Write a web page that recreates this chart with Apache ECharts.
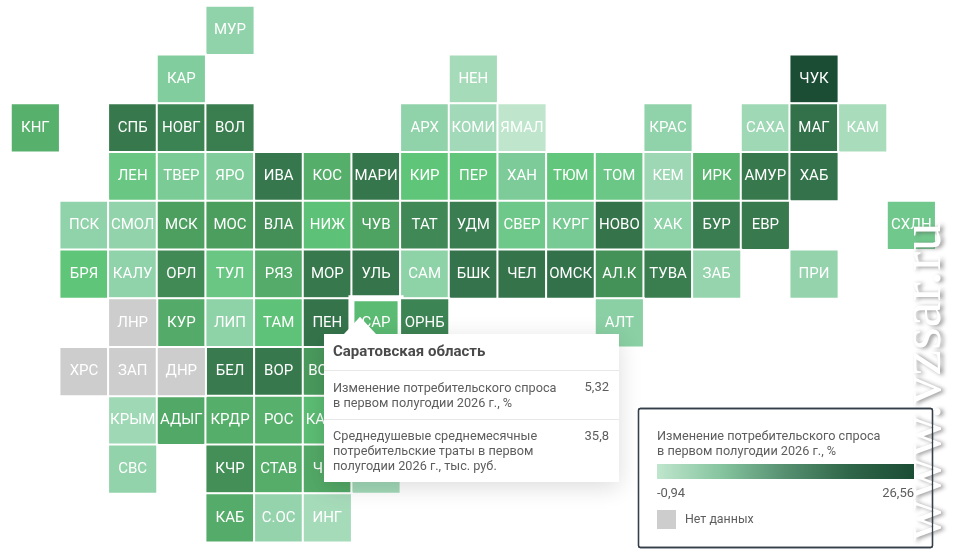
<!DOCTYPE html>
<html lang="ru">
<head>
<meta charset="utf-8">
<title>Изменение потребительского спроса</title>
<script src="https://cdn.jsdelivr.net/npm/echarts@6/dist/echarts.min.js"></script>
<style>html,body{margin:0;padding:0;background:#fff}#chart{width:960px;height:558px}</style>
</head>
<body>
<div id="chart"></div>
<script>
// ---- Data ----
const columnKeys = ['0','1','2','3','4','5','6','7','8','9','10','11','12','13','14','15','16','17','18'];
const rowKeys = ['0','1','2','3','4','5','6','7','8','9','10'];

const regionCodes = [
  'МУР',
  'КАР','НЕН','ЧУК',
  'КНГ','СПБ','НОВГ','ВОЛ','АРХ','КОМИ','ЯМАЛ','КРАС','САХА','МАГ','КАМ',
  'ЛЕН','ТВЕР','ЯРО','ИВА','КОС','МАРИ','КИР','ПЕР','ХАН','ТЮМ','ТОМ','КЕМ','ИРК','АМУР','ХАБ',
  'ПСК','СМОЛ','МСК','МОС','ВЛА','НИЖ','ЧУВ','ТАТ','УДМ','СВЕР','КУРГ','НОВО','ХАК','БУР','ЕВР','СХЛН',
  'БРЯ','КАЛУ','ОРЛ','ТУЛ','РЯЗ','МОР','УЛЬ','САМ','БШК','ЧЕЛ','ОМСК','АЛ.К','ТУВА','ЗАБ','ПРИ',
  'КУР','ЛИП','ТАМ','ПЕН','САР','ОРНБ','АЛТ',
  'БЕЛ','ВОР','ВОЛГ',
  'КРЫМ','АДЫГ','КРДР','РОС','КАЛМ','АСТ',
  'СВС','КЧР','СТАВ','ЧЕЧ','ДАГ',
  'КАБ','С.ОС','ИНГ'
];
const regionCols = [
  4,
  3,9,16,
  0,2,3,4,8,9,10,13,15,16,17,
  2,3,4,5,6,7,8,9,10,11,12,13,14,15,16,
  1,2,3,4,5,6,7,8,9,10,11,12,13,14,15,18,
  1,2,3,4,5,6,7,8,9,10,11,12,13,14,16,
  3,4,5,6,7,8,12,
  4,5,6,
  2,3,4,5,6,7,
  2,4,5,6,7,
  4,5,6
];
const regionRows = [
  0,
  1,1,1,
  2,2,2,2,2,2,2,2,2,2,2,
  3,3,3,3,3,3,3,3,3,3,3,3,3,3,3,
  4,4,4,4,4,4,4,4,4,4,4,4,4,4,4,4,
  5,5,5,5,5,5,5,5,5,5,5,5,5,5,5,
  6,6,6,6,6,6,6,
  7,7,7,
  8,8,8,8,8,8,
  9,9,9,9,9,
  10,10,10
];
const regionValues = [
  2.0,
  2.7,0.8,26.56,
  5.9,12.2,10.6,11.4,2.0,1.0,-0.94,2.0,1.2,13.6,0.7,
  4.2,3.1,2.8,12.6,6.0,12.8,4.8,4.7,3.0,4.6,4.1,1.3,5.6,12.4,13.4,
  2.0,1.9,7.2,7.3,8.8,5.0,7.0,9.6,11.5,3.9,3.3,13.0,2.1,11.6,12.0,3.7,
  4.8,2.0,9.4,4.2,6.2,12.4,12.9,2.1,13.2,13.1,13.5,8.4,11.3,1.7,1.8,
  6.3,2.1,4.9,13.0,5.32,10.4,2.3,
  11.8,12.2,7.6,
  1.2,6.5,6.0,5.9,5.2,1.2,
  1.9,8.8,6.1,6.4,1.0,
  6.2,1.8,0.8
];
const noDataCodes = ['ЛНР','ХРС','ЗАП','ДНР'];
const noDataCols = [2,1,2,3];
const noDataRows = [6,7,7,7];
const noDataValues = [0,0,0,0];
const hoveredCode = 'САР';

const legendTitle = 'Изменение потребительского спроса\nв первом полугодии 2026 г., %';
const legendMinLabel = '-0,94';
const legendMaxLabel = '26,56';
const noDataLabel = 'Нет данных';
const tipTitle = 'Саратовская область';
const tipRow1Label = 'Изменение потребительского спроса\nв первом полугодии 2026 г., %';
const tipRow1Value = '5,32';
const tipRow2Label = 'Среднедушевые среднемесячные\nпотребительские траты в первом\nполугодии 2026 г., тыс. руб.';
const tipRow2Value = '35,8';
const watermark = 'www.vzsar.ru';

// ---- Colour scale ----
const valueMin = -0.94, valueMax = 26.56;
const scaleValues = [-0.94, 0.7, 2, 3, 4.8, 6, 8, 10, 12, 14, 26.56];
const scaleColors = ['#bfe6cd','#a8dcbc','#90d2a9','#7ccb98','#5fc579','#56ae6b','#479559','#3e8655','#387a4e','#326f49','#1b4d35'];
function colourAt(v) {
  for (let i = 1; i < scaleValues.length; i++) {
    if (v <= scaleValues[i]) {
      const t = (v - scaleValues[i-1]) / (scaleValues[i] - scaleValues[i-1]);
      return echarts.color.lerp(t, [scaleColors[i-1], scaleColors[i]]);
    }
  }
  return scaleColors[scaleColors.length-1];
}
const rampSteps = 110, ramp = [];
for (let i = 0; i <= rampSteps; i++) ramp.push(colourAt(valueMin + (valueMax - valueMin) * i / rampSteps));

// ---- Series data ----
const regionData = regionCodes.map((name, i) => {
  const item = { name, value: [regionCols[i], regionRows[i], regionValues[i]] };
  if (name === hoveredCode) item.itemStyle = { borderWidth: 6, borderColor: '#ffffff' };
  return item;
});
const noData = noDataCodes.map((name, i) => ({ name, value: [noDataCols[i], noDataRows[i], noDataValues[i]] }));

const font = 'Roboto, sans-serif';
const tileLabel = { show: true, color: '#ffffff', fontFamily: font, fontSize: 15, formatter: p => p.name };
const tileStyle = { borderColor: '#ffffff', borderWidth: 2 };
const Z = 100;
function txt(x, y, text, o) {
  return { type: 'text', z: Z, x, y, style: Object.assign({ text, fill: '#5d5d5d', font: '12.7px ' + font, lineHeight: 15, align: 'left', verticalAlign: 'top' }, o || {}) };
}
function rule(x1, x2, y) {
  return { type: 'line', z: Z, shape: { x1, y1: y, x2, y2: y }, style: { stroke: '#e8e8e8', lineWidth: 1 } };
}

const chart = echarts.init(document.getElementById('chart'), null, { renderer: 'canvas' });
chart.setOption({
  backgroundColor: '#ffffff',
  animation: false,
  tooltip: { show: false },
  grid: { left: 11, top: 6, width: 924.7, height: 536.3, show: false },
  xAxis: { type: 'category', data: columnKeys, show: false },
  yAxis: { type: 'category', data: rowKeys, inverse: true, show: false },
  visualMap: [
    { show: false, seriesIndex: 0, min: valueMin, max: valueMax, inRange: { color: ramp } },
    { show: false, seriesIndex: 1, min: 0, max: 1, inRange: { color: ['#cdcdcd', '#cdcdcd'] } }
  ],
  series: [
    { type: 'heatmap', data: regionData, label: tileLabel, itemStyle: tileStyle, emphasis: { disabled: true } },
    { type: 'heatmap', data: noData, label: tileLabel, itemStyle: tileStyle, emphasis: { disabled: true } }
  ],
  graphic: [
    // tooltip
    { type: 'polygon', z: Z, shape: { points: [[343,335],[360,317],[377,335]] }, style: { fill: '#ffffff' } },
    { type: 'rect', z: Z, shape: { x: 324, y: 334, width: 295, height: 148 },
      style: { fill: '#ffffff', shadowBlur: 22, shadowColor: 'rgba(0,0,0,0.14)', shadowOffsetY: 5 } },
    { type: 'polygon', z: Z, shape: { points: [[343,336],[360,317],[377,336]] }, style: { fill: '#ffffff' } },
    rule(324, 619, 370.5), rule(324, 619, 419.5),
    txt(333, 344, tipTitle, { font: 'bold 15px ' + font, fill: '#4a4a4a', lineHeight: 17 }),
    txt(333, 381, tipRow1Label),
    txt(609, 380, tipRow1Value, { align: 'right', font: '13px ' + font }),
    txt(333, 429.5, tipRow2Label),
    txt(609, 429, tipRow2Value, { align: 'right', font: '13px ' + font }),
    // legend box
    { type: 'rect', z: Z, shape: { x: 638.5, y: 408.5, width: 294, height: 139, r: 2 }, style: { fill: '#ffffff', stroke: '#333e48', lineWidth: 1.3 } },
    txt(657, 429, legendTitle),
    { type: 'rect', z: Z, shape: { x: 657, y: 464, width: 257, height: 15 },
      style: { fill: new echarts.graphic.LinearGradient(0, 0, 1, 0, [
        { offset: 0, color: '#bfe6cd' }, { offset: 0.25, color: '#86c49f' },
        { offset: 0.5, color: '#558f70' }, { offset: 0.75, color: '#2f6548' }, { offset: 1, color: '#1b4d35' }
      ]) } },
    txt(657, 486, legendMinLabel, { font: '13px ' + font }),
    txt(914, 486, legendMaxLabel, { font: '13px ' + font, align: 'right' }),
    { type: 'rect', z: Z, shape: { x: 657, y: 510, width: 19, height: 19 }, style: { fill: '#cdcdcd' } },
    txt(685, 512, noDataLabel, { font: '12.4px ' + font }),
    // watermark
    { type: 'text', z: Z + 5, x: 925, y: 541, rotation: Math.PI / 2,
      style: { text: watermark, fill: '#ffffff', font: '58px "Liberation Serif", serif', align: 'left', verticalAlign: 'middle',
        textShadowColor: 'rgba(90,90,90,0.65)', textShadowBlur: 4, textShadowOffsetX: 3, textShadowOffsetY: 1 } },
    // legend frame stays readable through the watermark
    { type: 'rect', z: Z + 6, shape: { x: 638.5, y: 408.5, width: 294, height: 139, r: 2 }, style: { fill: 'none', stroke: '#333e48', lineWidth: 1.3 } }
  ]
});
</script>
</body>
</html>
